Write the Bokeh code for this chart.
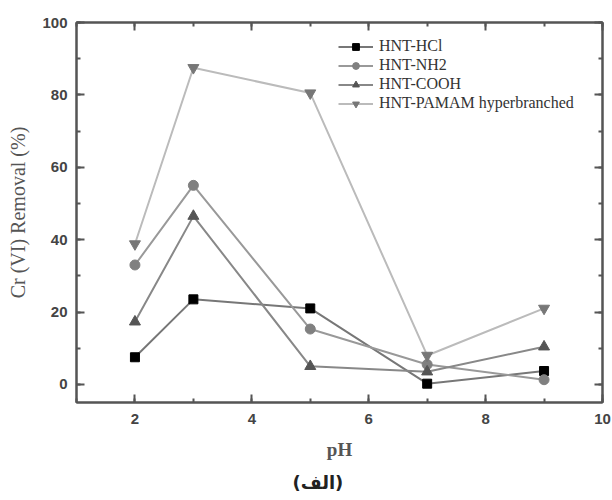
from bokeh.plotting import figure
from bokeh.models import (Range1d, LinearAxis, SingleIntervalTicker, Legend, LegendItem, Title)
from bokeh.embed import file_html
from bokeh.resources import INLINE

ph = [2, 3, 5, 7, 9]
hcl = [7.5, 23.5, 21.0, 0.2, 3.7]
nh2 = [33.0, 55.0, 15.3, 5.5, 1.3]
cooh = [17.3, 46.5, 5.0, 3.5, 10.4]
pamam = [38.8, 87.5, 80.5, 8.0, 21.0]
names = ["HNT-HCl", "HNT-NH2", "HNT-COOH", "HNT-PAMAM hyperbranched"]

p = figure(width=612, height=500, output_backend="svg", toolbar_location=None,
           x_range=Range1d(1, 10), y_range=Range1d(-5, 100),
           x_axis_type=None, y_axis_type=None,
           min_border_left=76, min_border_right=10, min_border_top=22, min_border_bottom=20)
p.xgrid.visible = False
p.ygrid.visible = False
p.outline_line_color = "#555555"
p.outline_line_width = 2
p.background_fill_color = "white"
p.border_fill_color = "white"

def make_axis(interval, labels):
    ax = LinearAxis(ticker=SingleIntervalTicker(interval=interval, num_minor_ticks=2))
    ax.axis_line_color = "#555555"
    ax.axis_line_width = 2
    ax.major_tick_in = 8
    ax.major_tick_out = 0
    ax.minor_tick_in = 4
    ax.minor_tick_out = 0
    ax.major_tick_line_color = "#555555"
    ax.major_tick_line_width = 2
    ax.minor_tick_line_color = "#555555"
    ax.minor_tick_line_width = 2
    if labels:
        ax.major_label_text_font = "Liberation Sans"
        ax.major_label_text_font_style = "bold"
        ax.major_label_text_font_size = "15px"
        ax.major_label_text_color = "#444444"
    else:
        ax.major_label_text_font_size = "1px"
        ax.major_label_text_alpha = 0
        ax.major_label_standoff = 0
    return ax

xb = make_axis(2, True)
xb.axis_label = "pH"
xb.axis_label_text_font = "Liberation Serif"
xb.axis_label_text_font_style = "bold"
xb.axis_label_text_font_size = "19px"
xb.axis_label_text_color = "#555555"
xb.major_label_standoff = 11
xb.axis_label_standoff = 12
p.add_layout(xb, "below")

yl = make_axis(20, True)
yl.axis_label = "Cr (VI) Removal (%)"
yl.axis_label_text_font = "Liberation Serif"
yl.axis_label_text_font_style = "normal"
yl.axis_label_text_font_size = "20px"
yl.axis_label_text_color = "#555555"
yl.major_label_standoff = 9
yl.axis_label_standoff = 10
p.add_layout(yl, "left")

p.add_layout(make_axis(2, False), "above")
p.add_layout(make_axis(20, False), "right")

t = Title(text="(الف)", text_font="DejaVu Sans", text_font_size="18px", text_font_style="bold",
          text_color="#222222", align="left", offset=216, standoff=15)
p.add_layout(t, "below")

styles = [
    (hcl, "square", "#000000", "#777777", 9),
    (nh2, "circle", "#808080", "#999999", 10),
    (cooh, "triangle", "#555555", "#888888", 11),
    (pamam, "inverted_triangle", "#777777", "#bbbbbb", 11),
]
items = []
for (ys, mk, mc, lc, sz), nm in zip(styles, names):
    r1 = p.line(ph, ys, line_color=lc, line_width=2)
    r2 = p.scatter(ph, ys, marker=mk, size=sz, fill_color=mc, line_color=mc)
    items.append(LegendItem(label=nm, renderers=[r1, r2]))

leg = Legend(items=items, location=(262, 290), orientation="vertical")
leg.label_text_font = "Liberation Serif"
leg.label_text_font_size = "16px"
leg.label_text_color = "#333333"
leg.glyph_width = 35
leg.glyph_height = 17
leg.label_height = 17
leg.label_standoff = 6
leg.spacing = 1
leg.padding = 0
leg.margin = 0
leg.border_line_color = None
leg.background_fill_alpha = 0
p.add_layout(leg, "center")

open("out.html", "w").write(file_html(p, INLINE))
